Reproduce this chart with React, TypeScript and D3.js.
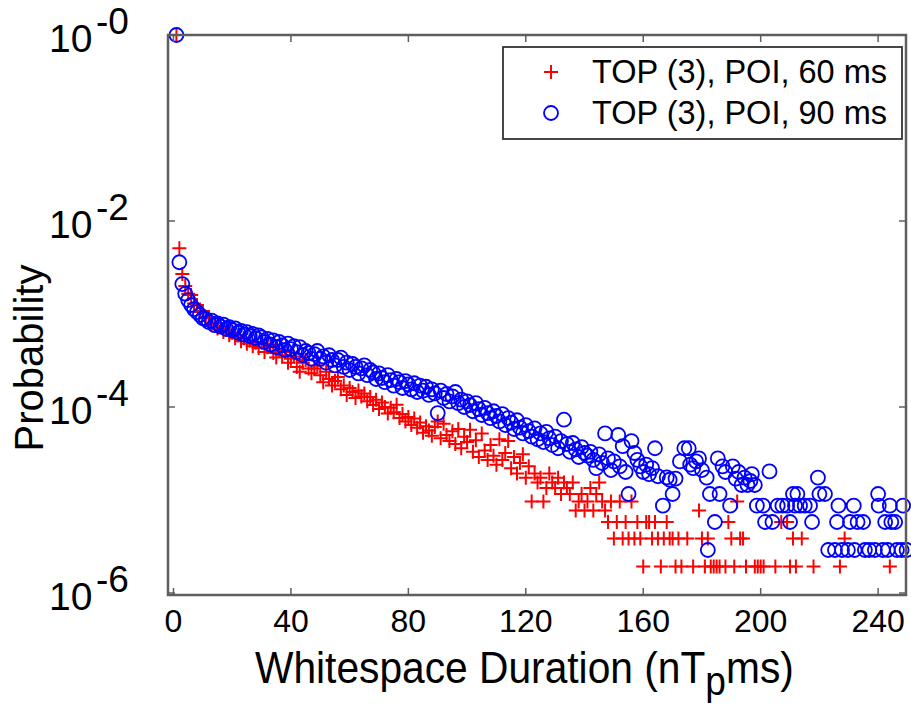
import React from 'react';
import * as d3 from 'd3';

const xTicks = [0, 40, 80, 120, 160, 200, 240];
const yTickExponents = [0, -2, -4, -6];
const legendLabels = ['TOP (3), POI, 60 ms', 'TOP (3), POI, 90 ms'];
const yTitle = 'Probability';

// TOP (3), POI, 60 ms  — [duration, probability]
const red60: [number, number][] = [
  [1, 1], [2, 5.1e-3], [3, 2.7e-3], [4, 2.0e-3], [5, 1.65e-3], [6, 1.6e-3], [7, 1.3e-3], [8, 1.25e-3], [9, 1.05e-3], [10, 1.08e-3],
  [11, 9.0e-4], [12, 9.2e-4], [13, 7.8e-4], [14, 8.0e-4], [15, 7.0e-4], [16, 7.4e-4], [17, 6.4e-4], [18, 6.8e-4], [19, 5.9e-4], [20, 6.3e-4],
  [21, 5.5e-4], [22, 5.9e-4], [23, 5.1e-4], [24, 5.5e-4], [25, 4.8e-4], [26, 5.2e-4], [27, 4.5e-4], [28, 4.9e-4], [29, 4.3e-4], [30, 4.9e-4],
  [31, 3.9e-4], [32, 4.4e-4], [33, 4.7e-4], [34, 3.8e-4], [35, 3.4e-4], [36, 4.0e-4], [37, 3.6e-4], [38, 3.9e-4], [39, 3.0e-4], [40, 3.3e-4],
  [41, 3.5e-4], [42, 2.7e-4], [43, 2.4e-4], [44, 3.0e-4], [45, 3.2e-4], [46, 2.6e-4], [47, 2.3e-4], [48, 2.6e-4], [49, 2.8e-4], [50, 2.2e-4],
  [51, 1.85e-4], [52, 2.4e-4], [53, 2.0e-4], [54, 1.7e-4], [55, 1.9e-4], [56, 2.1e-4], [57, 1.55e-4], [58, 1.7e-4], [59, 1.35e-4], [60, 1.6e-4],
  [61, 1.45e-4], [62, 1.25e-4], [63, 1.5e-4], [64, 1.3e-4], [65, 1.4e-4], [66, 1.15e-4], [67, 1.28e-4], [68, 1.05e-4], [69, 1.2e-4], [70, 9.5e-5],
  [71, 1.12e-4], [72, 1.0e-4], [73, 8.5e-5], [74, 9.8e-5], [75, 8.8e-5], [76, 1.06e-4], [77, 7.6e-5], [78, 8.4e-5], [79, 7.0e-5], [80, 7.8e-5],
  [81, 6.4e-5], [82, 7.5e-5], [83, 6.0e-5], [84, 6.8e-5], [85, 5.3e-5], [86, 6.2e-5], [87, 5.6e-5], [88, 4.9e-5], [89, 6.1e-5], [90, 7.0e-5],
  [91, 4.6e-5], [92, 6.6e-5], [93, 5.0e-5], [94, 4.3e-5], [95, 5.5e-5], [96, 4.0e-5], [97, 5.8e-5], [98, 3.6e-5], [99, 4.8e-5], [100, 4.2e-5],
  [101, 5.7e-5], [102, 3.3e-5], [103, 4.4e-5], [104, 2.9e-5], [105, 5.2e-5], [106, 3.4e-5], [107, 2.7e-5], [108, 3.9e-5], [109, 3.0e-5], [110, 2.4e-5],
  [111, 4.5e-5], [112, 2.7e-5], [113, 3.2e-5], [114, 4.3e-5], [115, 2.2e-5], [116, 2.9e-5], [117, 1.93e-5], [118, 2.5e-5], [119, 3.1e-5], [120, 1.74e-5],
  [121, 2.3e-5], [122, 9.65e-6], [123, 1.93e-5], [124, 1.54e-5], [125, 1.74e-5], [126, 9.65e-6], [127, 1.35e-5], [128, 1.93e-5], [129, 1.54e-5], [130, 1.35e-5],
  [131, 1.74e-5], [132, 1.16e-5], [133, 1.54e-5], [134, 1.35e-5], [135, 1.16e-5], [136, 1.54e-5], [137, 7.72e-6], [138, 9.65e-6], [139, 1.16e-5], [140, 7.72e-6],
  [141, 9.65e-6], [142, 1.35e-5], [143, 7.72e-6], [144, 1.16e-5], [145, 1.54e-5], [146, 9.65e-6], [147, 7.72e-6], [148, 5.79e-6], [149, 9.65e-6], [150, 3.86e-6],
  [151, 5.79e-6], [152, 9.65e-6], [153, 3.86e-6], [154, 5.79e-6], [155, 3.86e-6], [156, 9.65e-6], [157, 3.86e-6], [158, 5.79e-6], [159, 3.86e-6], [160, 1.93e-6],
  [161, 5.79e-6], [162, 5.79e-6], [163, 3.86e-6], [164, 5.79e-6], [165, 3.86e-6], [166, 1.93e-6], [167, 3.86e-6], [168, 5.79e-6], [169, 3.86e-6], [170, 3.86e-6],
  [171, 1.93e-6], [172, 3.86e-6], [173, 1.93e-6], [175, 3.86e-6], [177, 1.93e-6], [179, 7.72e-6], [180, 3.86e-6],
  [181, 1.93e-6], [182, 3.86e-6], [183, 1.93e-6], [184, 1.93e-6], [185, 1.93e-6], [186, 1.93e-6], [188, 1.93e-6], [189, 5.79e-6], [190, 3.86e-6],
  [191, 1.93e-6], [192, 9.65e-6], [193, 3.86e-6], [194, 3.86e-6], [195, 1.93e-6], [198, 1.93e-6], [199, 1.93e-6], [200, 1.93e-6],
  [201, 1.93e-6], [205, 1.93e-6], [207, 5.79e-6], [209, 5.79e-6], [210, 1.93e-6],
  [211, 3.86e-6], [212, 1.93e-6], [214, 3.86e-6], [218, 1.93e-6], [227, 1.93e-6], [228.6, 3.86e-6], [244, 1.93e-6],
];

// TOP (3), POI, 90 ms — [duration, probability]
const blue90: [number, number][] = [
  [1, 1], [2, 3.6e-3], [3, 2.1e-3], [4, 1.65e-3], [5, 1.41e-3], [6, 1.25e-3], [7, 1.13e-3], [8, 1.05e-3], [9, 9.8e-4], [10, 9.0e-4],
  [11, 8.8e-4], [12, 8.2e-4], [13, 8.5e-4], [14, 7.6e-4], [15, 7.9e-4], [16, 7.3e-4], [17, 7.7e-4], [18, 6.9e-4], [19, 7.2e-4], [20, 6.7e-4],
  [21, 7.0e-4], [22, 6.3e-4], [23, 6.6e-4], [24, 6.0e-4], [25, 6.4e-4], [26, 5.8e-4], [27, 6.1e-4], [28, 5.5e-4], [29, 5.9e-4], [30, 5.6e-4],
  [31, 5.0e-4], [32, 5.4e-4], [33, 4.7e-4], [34, 5.2e-4], [35, 4.4e-4], [36, 5.0e-4], [37, 4.6e-4], [38, 4.1e-4], [39, 4.8e-4], [40, 4.2e-4],
  [41, 4.5e-4], [42, 3.9e-4], [43, 4.4e-4], [44, 3.6e-4], [45, 4.0e-4], [46, 3.8e-4], [47, 3.3e-4], [48, 3.7e-4], [49, 4.0e-4], [50, 3.3e-4],
  [51, 3.5e-4], [52, 3.0e-4], [53, 3.6e-4], [54, 3.2e-4], [55, 2.8e-4], [56, 3.2e-4], [57, 3.4e-4], [58, 2.7e-4], [59, 3.0e-4], [60, 2.5e-4],
  [61, 2.9e-4], [62, 2.7e-4], [63, 2.3e-4], [64, 2.6e-4], [65, 2.8e-4], [66, 2.2e-4], [67, 2.5e-4], [68, 2.35e-4], [69, 2.0e-4], [70, 2.3e-4],
  [71, 2.05e-4], [72, 1.85e-4], [73, 2.2e-4], [74, 1.95e-4], [75, 1.7e-4], [76, 2.0e-4], [77, 1.85e-4], [78, 1.6e-4], [79, 1.9e-4], [80, 1.75e-4],
  [81, 1.55e-4], [82, 1.8e-4], [83, 1.45e-4], [84, 1.7e-4], [85, 1.5e-4], [86, 1.65e-4], [87, 1.35e-4], [88, 1.55e-4], [89, 1.4e-4], [90, 8.6e-5],
  [91, 1.5e-4], [92, 1.25e-4], [93, 1.38e-4], [94, 1.15e-4], [95, 1.3e-4], [96, 1.45e-4], [97, 1.1e-4], [98, 1.2e-4], [99, 1.0e-4], [100, 1.15e-4],
  [101, 1.05e-4], [102, 9.0e-5], [103, 1.1e-4], [104, 9.5e-5], [105, 8.2e-5], [106, 9.8e-5], [107, 8.6e-5], [108, 7.6e-5], [109, 9.0e-5], [110, 8.0e-5],
  [111, 7.0e-5], [112, 8.4e-5], [113, 6.4e-5], [114, 7.6e-5], [115, 6.8e-5], [116, 5.8e-5], [117, 7.2e-5], [118, 6.0e-5], [119, 5.2e-5], [120, 6.4e-5],
  [121, 5.5e-5], [122, 4.8e-5], [123, 5.9e-5], [124, 4.5e-5], [125, 5.2e-5], [126, 4.2e-5], [127, 5.4e-5], [128, 4.6e-5], [129, 3.9e-5], [130, 4.8e-5],
  [131, 3.6e-5], [132, 4.3e-5], [133, 7.3e-5], [134, 4.0e-5], [135, 3.3e-5], [136, 4.1e-5], [137, 3.5e-5], [138, 2.9e-5], [139, 3.7e-5], [140, 3.2e-5],
  [141, 3.0e-5], [142, 3.3e-5], [143, 2.7e-5], [144, 2.2e-5], [145, 3.1e-5], [146, 2.5e-5], [147, 5.2e-5], [148, 2.8e-5], [149, 2.1e-5], [150, 2.6e-5],
  [151.5, 5.0e-5], [152, 2.3e-5], [153, 3.8e-5], [154, 2.0e-5], [155, 1.16e-5], [156, 4.3e-5], [157, 3.2e-5], [158, 2.7e-5], [159, 2.3e-5], [160, 2.0e-5],
  [161, 2.4e-5], [162, 1.9e-5], [163, 2.2e-5], [164, 3.6e-5], [165, 1.8e-5], [166.7, 8.7e-6], [168, 1.75e-5], [169, 1.65e-5], [170, 1.16e-5],
  [171, 1.7e-5], [172.5, 2.6e-5], [174, 3.6e-5], [175.5, 3.6e-5], [176, 2.4e-5], [177, 2.2e-5], [178, 2.6e-5], [179, 2.8e-5], [180, 2.1e-5],
  [181.6, 1.74e-5], [182, 2.9e-6], [182.7, 1.16e-5], [184.4, 5.8e-6], [185.4, 2.8e-5], [186, 1.16e-5], [187, 2.3e-5], [188, 2.0e-5], [189.6, 8.7e-6],
  [190.5, 2.3e-5], [191.5, 1.7e-5], [192.5, 2.0e-5], [193.5, 1.45e-5], [194.5, 1.74e-5], [195.5, 1.45e-5], [196.5, 1.6e-5], [197, 1.9e-5], [198, 1.45e-5],
  [198.7, 8.7e-6], [200.8, 8.7e-6], [201.5, 5.8e-6], [203, 2.03e-5], [204, 5.8e-6], [205.8, 8.7e-6], [207.4, 8.7e-6], [209, 8.7e-6], [210, 5.8e-6],
  [211, 1.16e-5], [211.7, 8.7e-6], [212.5, 1.16e-5], [213.4, 8.7e-6], [215, 8.7e-6], [216.8, 8.7e-6], [217.5, 5.8e-6], [219.5, 1.74e-5], [220, 1.16e-5],
  [221.9, 1.16e-5], [223, 2.9e-6], [225.3, 2.9e-6], [226, 5.8e-6], [226.5, 8.7e-6], [227.7, 2.9e-6], [229.7, 2.9e-6], [230.4, 5.8e-6], [231.7, 8.7e-6],
  [232, 2.9e-6], [233, 5.8e-6], [234.9, 5.8e-6], [235.5, 2.9e-6], [237, 2.9e-6], [238.9, 2.9e-6], [240, 1.16e-5], [240.2, 8.7e-6], [241.6, 2.9e-6],
  [242.4, 5.8e-6], [243.3, 2.9e-6], [244, 8.7e-6], [244.5, 5.8e-6], [245.8, 5.8e-6], [246.4, 2.9e-6], [248, 2.9e-6], [248.5, 8.7e-6], [249.7, 2.9e-6],
];

const FONT = '"Liberation Sans", Arial, Helvetica, sans-serif';
const RED = '#ff0000';
const BLUE = '#0000ff';
const AXIS = '#5e5e5e';

export default function App() {
  const left = 168, right = 906, top = 35, bottom = 595;
  const x = d3.scaleLinear().domain([-1.87, 249.5]).range([left, right]);
  const y = d3.scaleLog().domain([Math.pow(10, -6.0215), 1]).range([bottom, top]);
  const tickLen = 7;
  const plusHalf = 7;
  const circleR = 7;

  return (
    <svg width={911} height={707} style={{ position: 'absolute', left: 0, top: 0, background: '#fff' }}
      fontFamily={FONT}>
      <rect x={0} y={0} width={911} height={707} fill="#fff" />

      {/* red plus markers */}
      <g stroke={RED} strokeWidth={2} fill="none">
        {red60.map(([d, p], i) => {
          const cx = x(d), cy = y(p);
          return (
            <path key={i} d={`M${cx - plusHalf},${cy}H${cx + plusHalf}M${cx},${cy - plusHalf}V${cy + plusHalf}`} />
          );
        })}
      </g>
      {/* blue circle markers */}
      <g stroke={BLUE} strokeWidth={1.8} fill="none">
        {blue90.map(([d, p], i) => (
          <circle key={i} cx={x(d)} cy={y(p)} r={circleR} />
        ))}
      </g>

      {/* frame */}
      <rect x={left} y={top} width={right - left} height={bottom - top} fill="none" stroke={AXIS} strokeWidth={2.5} />

      {/* ticks */}
      <g stroke={AXIS} strokeWidth={1.5}>
        {xTicks.map(t => (
          <g key={t}>
            <line x1={x(t)} x2={x(t)} y1={bottom} y2={bottom - tickLen} />
            <line x1={x(t)} x2={x(t)} y1={top} y2={top + tickLen} />
          </g>
        ))}
        {yTickExponents.map(e => (
          <g key={e}>
            <line x1={left} x2={left + tickLen} y1={y(Math.pow(10, e))} y2={y(Math.pow(10, e))} />
            <line x1={right} x2={right - tickLen} y1={y(Math.pow(10, e))} y2={y(Math.pow(10, e))} />
          </g>
        ))}
      </g>

      {/* x tick labels */}
      <g fontSize={32} textAnchor="middle" fill="#000">
        {xTicks.map(t => (
          <text key={t} x={x(t)} y={632}>{t}</text>
        ))}
      </g>

      {/* y tick labels */}
      <g fill="#000">
        {yTickExponents.map(e => {
          const ty = y(Math.pow(10, e));
          return (
            <g key={e}>
              <text x={49} y={ty + 17} fontSize={39}>10</text>
              <text x={96} y={ty - 1} fontSize={37}>{`-${Math.abs(e)}`}</text>
            </g>
          );
        })}
      </g>

      {/* axis titles */}
      <g transform="translate(255,683) scale(0.905,1)">
        <text x={0} y={0} fontSize={45} fill="#000">
          Whitespace Duration (nT<tspan fontSize={41} dy={12}>p</tspan><tspan dy={-12}>ms)</tspan>
        </text>
      </g>
      <text transform="translate(43,358) rotate(-90)" fontSize={40} textAnchor="middle" fill="#000">{yTitle}</text>

      {/* legend */}
      <rect x={503} y={47} width={399} height={92} fill="#fff" stroke="#333" strokeWidth={1.8} />
      <path d={`M${551 - plusHalf},72H${551 + plusHalf}M551,${72 - plusHalf}V${72 + plusHalf}`} stroke={RED} strokeWidth={2} />
      <circle cx={551} cy={113} r={circleR} fill="none" stroke={BLUE} strokeWidth={1.8} />
      <g fontSize={32.5} fill="#000">
        <text x={592} y={83}>{legendLabels[0]}</text>
        <text x={592} y={124}>{legendLabels[1]}</text>
      </g>
    </svg>
  );
}
